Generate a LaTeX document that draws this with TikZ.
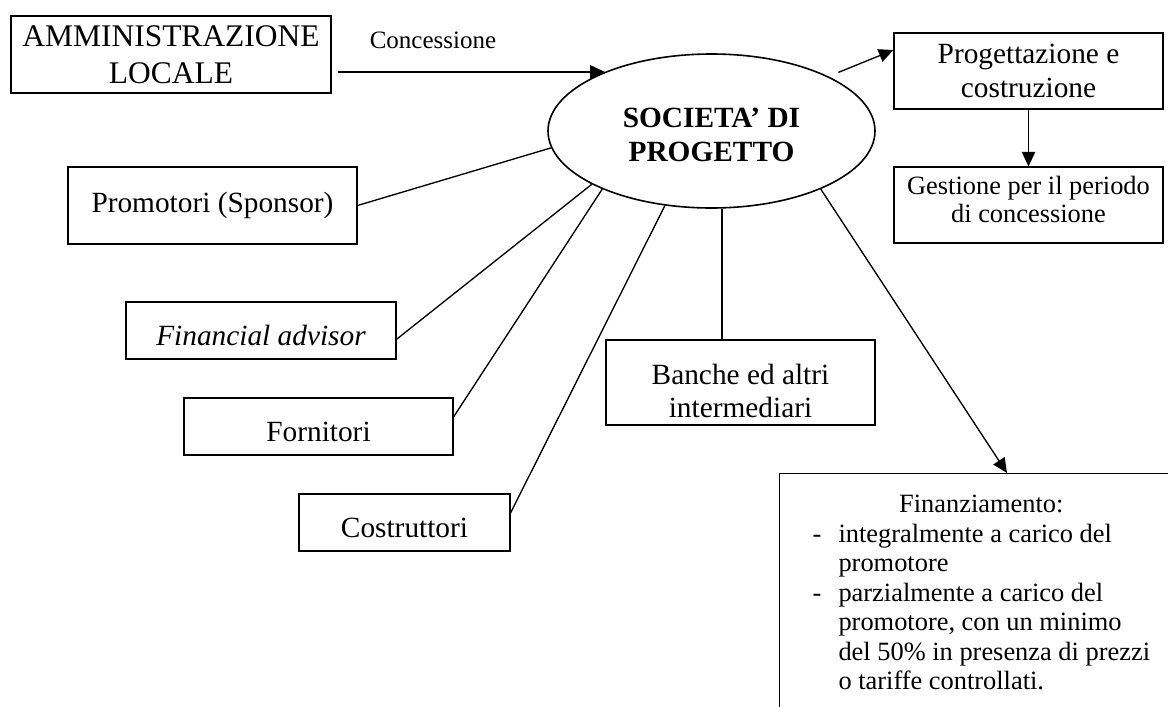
\documentclass[tikz,border=0pt]{standalone}
\usepackage{fontspec}
\setmainfont{Liberation Serif}
\usetikzlibrary{shapes.geometric,arrows.meta,calc}

\begin{document}
\begin{tikzpicture}[x=0.75pt,y=-0.75pt,
  box/.style={draw,line width=0.8pt,inner sep=0pt,align=center,font=\fontsize{22}{25}\selectfont},
  lowbox/.style={box,text height=22pt,text depth=0pt},
  link/.style={line width=1pt},
  arr/.style={link,-{Triangle[length=11pt,width=10pt]}}]

\useasboundingbox (0,0) rectangle (1168,707);
\clip (0,0) rectangle (1168,707);

\node[ellipse,draw,line width=1.2pt,inner sep=0pt,minimum width=245.25pt,minimum height=115.5pt,align=center,font=\fontsize{22}{25.5}\selectfont\bfseries] (soc) at (711.5,131) {\rule{0pt}{21pt}SOCIETA' DI\\PROGETTO};

\node[box,minimum width=240pt,minimum height=57.75pt,font=\fontsize{23.6}{27.75}\selectfont] (amm) at (171,54.5) {AMMINISTRAZIONE\\LOCALE};
\node[font=\fontsize{18.75}{21}\selectfont] (conc) at (433,40) {Concessione};
\draw[arr] ($(amm.east |- soc.151)+(6,0)$) -- (soc.151);

%
\node[box,minimum width=201.75pt,minimum height=57pt] (prog) at (1028.5,71) {Progettazione e\\costruzione};
\node[box,minimum width=201.75pt,minimum height=57pt,font=\fontsize{19.8}{21}\selectfont] (gest) at (1028.5,205) {Gestione per il periodo\\di concessione\rule[-9pt]{0pt}{9pt}};
\draw[arr,shorten <=8pt] (soc.25) -- ($(prog.west)+(0,-21)$);
\draw[arr] (prog.south) -- (gest.north);

%
\node[box,minimum width=216.75pt,minimum height=57.75pt] (prom) at (212.5,205.5) {Promotori (Sponsor)};
\node[lowbox,minimum width=202.5pt,minimum height=42.75pt,font=\fontsize{22}{25}\selectfont\itshape] (fin) at (261,330.5) {Financial advisor};
\node[lowbox,minimum width=201.75pt,minimum height=42.75pt] (forn) at (318.5,426.5) {Fornitori};
\node[lowbox,minimum width=158.25pt,minimum height=42.75pt] (cost) at (404.5,522.5) {Costruttori};
\node[box,minimum width=201.75pt,minimum height=63.75pt] (ban) at (740.5,382.5) {\rule{0pt}{27.75pt}Banche ed altri\\intermediari};

\draw[link] (prom.east) -- (soc.186);
\draw[link] ($(fin.east)+(0,8.8)$) -- (soc.204);
\draw[link] ($(forn.east)+(0,-9.5)$) -- (soc.208);
\draw[link] ($(cost.east)+(0,-9.5)$) -- (soc.238);
\coordinate (bantop) at ($(ban.north)+(-18.5,0)$);
\draw[link] (bantop) -- (bantop |- soc.south);

%
\node[draw,line width=0.8pt,anchor=north west,inner xsep=24.75pt,inner ysep=13.9pt,font=\fontsize{19.8}{22.1}\selectfont] (fina) at (779,473) {\begin{tabular}{@{}p{19.5pt}@{}l@{}}
\multicolumn{2}{@{}c@{}}{Finanziamento:}\\
- & integralmente a carico del\\
  & promotore\\
- & parzialmente a carico del\\
  & promotore, con un minimo\\
  & del 50\% in presenza di prezzi\\
  & o tariffe controllati.
\end{tabular}};
\draw[arr] (soc.332) -- ($(fina.north west)+(228,0)$);
\end{tikzpicture}
\end{document}
